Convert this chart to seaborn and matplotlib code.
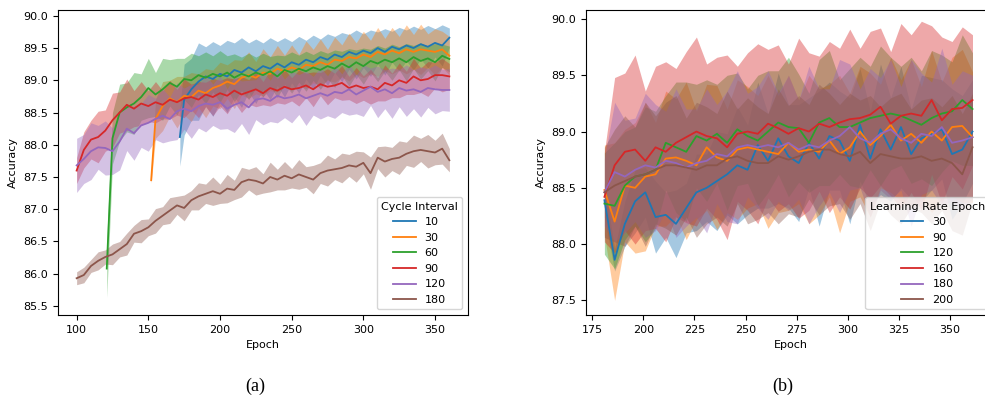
# plot.py
# Two panels of accuracy vs. epoch with shaded bands: (a) cycle interval, (b) learning rate epoch

import matplotlib
matplotlib.use('Agg')
import matplotlib.pyplot as plt
import pandas as pd
import seaborn as sns

# --- Data: panel (a), Cycle Interval ---

EPOCHS_A = list(range(100, 361, 5))
CYCLE_LABELS = ['10', '30', '60', '90', '120', '180']
CYCLE_START = [172, 152, 121, 100, 100, 100]

cycle_10 = [88.12, 88.70, 88.86, 88.98, 89.06, 89.02, 89.10, 89.06, 89.16, 89.12,
            89.20, 89.14, 89.22, 89.18, 89.26, 89.20, 89.28, 89.24, 89.32, 89.28,
            89.36, 89.32, 89.40, 89.36, 89.44, 89.40, 89.46, 89.42, 89.50, 89.44,
            89.52, 89.48, 89.54, 89.50, 89.56, 89.52, 89.58, 89.54, 89.66]
cycle_10_ci = [0.45, 0.55, 0.48, 0.60, 0.46, 0.58, 0.44, 0.56, 0.42, 0.54,
               0.38, 0.50, 0.36, 0.48, 0.34, 0.46, 0.32, 0.44, 0.30, 0.42,
               0.28, 0.40, 0.28, 0.38, 0.27, 0.38, 0.26, 0.36, 0.25, 0.36,
               0.24, 0.34, 0.24, 0.34, 0.23, 0.33, 0.22, 0.32, 0.15]

cycle_30 = [87.45, 88.40, 88.60, 88.72, 88.66, 88.76, 88.74, 88.84, 88.80, 88.88,
            88.92, 88.98, 88.94, 89.04, 89.08, 89.04, 89.12, 89.10, 89.18, 89.14,
            89.20, 89.16, 89.24, 89.22, 89.28, 89.24, 89.32, 89.30, 89.36, 89.34,
            89.40, 89.36, 89.44, 89.40, 89.46, 89.42, 89.48, 89.44, 89.48, 89.46,
            89.44, 89.48, 89.38]
cycle_30_ci = [0.05, 0.30, 0.38, 0.28, 0.40, 0.30, 0.38, 0.26, 0.38, 0.28,
               0.36, 0.26, 0.38, 0.27, 0.36, 0.25, 0.37, 0.26, 0.36, 0.25,
               0.35, 0.24, 0.37, 0.26, 0.36, 0.24, 0.35, 0.25, 0.37, 0.24,
               0.36, 0.26, 0.38, 0.25, 0.36, 0.26, 0.38, 0.27, 0.39, 0.26,
               0.36, 0.28, 0.30]

cycle_60 = [86.08, 88.10, 88.50, 88.58, 88.64, 88.74, 88.88, 88.78, 88.86, 88.96,
            88.90, 89.02, 89.00, 89.08, 89.04, 89.10, 89.06, 89.12, 89.04, 89.10,
            89.06, 89.12, 89.08, 89.14, 89.06, 89.16, 89.12, 89.18, 89.14, 89.20,
            89.16, 89.22, 89.18, 89.26, 89.20, 89.28, 89.22, 89.30, 89.26, 89.32,
            89.28, 89.34, 89.28, 89.36, 89.30, 89.34, 89.28, 89.38, 89.33]
cycle_60_ci = [0.45, 0.40, 0.44, 0.38, 0.48, 0.36, 0.46, 0.34, 0.48, 0.36,
               0.44, 0.32, 0.42, 0.30, 0.40, 0.28, 0.40, 0.26, 0.37, 0.26,
               0.36, 0.24, 0.34, 0.23, 0.33, 0.22, 0.32, 0.21, 0.31, 0.20,
               0.30, 0.20, 0.29, 0.19, 0.29, 0.19, 0.28, 0.18, 0.28, 0.18,
               0.28, 0.18, 0.29, 0.18, 0.28, 0.19, 0.29, 0.18, 0.20]

cycle_90 = [87.60, 87.92, 88.08, 88.12, 88.22, 88.38, 88.50, 88.62, 88.56, 88.64,
            88.60, 88.66, 88.62, 88.70, 88.66, 88.72, 88.74, 88.70, 88.78, 88.74,
            88.80, 88.76, 88.84, 88.78, 88.82, 88.86, 88.80, 88.88, 88.84, 88.90,
            88.86, 88.88, 88.92, 88.86, 88.94, 88.90, 88.92, 88.96, 88.88, 88.92,
            88.88, 88.90, 88.86, 88.96, 88.92, 89.00, 88.96, 89.06, 89.00, 89.02,
            89.08, 89.08, 89.06]
cycle_90_ci = [0.20, 0.28, 0.30, 0.40, 0.32, 0.42, 0.32, 0.40, 0.28, 0.34,
               0.24, 0.32, 0.22, 0.30, 0.20, 0.30, 0.20, 0.28, 0.19, 0.29,
               0.20, 0.28, 0.18, 0.28, 0.19, 0.27, 0.18, 0.28, 0.19, 0.27,
               0.18, 0.28, 0.19, 0.27, 0.18, 0.28, 0.19, 0.27, 0.18, 0.28,
               0.19, 0.27, 0.18, 0.28, 0.19, 0.27, 0.18, 0.28, 0.19, 0.27,
               0.20, 0.26, 0.20]

cycle_120 = [87.68, 87.78, 87.90, 87.96, 87.95, 87.90, 88.05, 88.25, 88.18, 88.30,
             88.34, 88.40, 88.45, 88.40, 88.52, 88.56, 88.52, 88.60, 88.64, 88.62,
             88.66, 88.56, 88.62, 88.66, 88.58, 88.70, 88.72, 88.68, 88.76, 88.72,
             88.74, 88.78, 88.72, 88.76, 88.80, 88.76, 88.82, 88.80, 88.86, 88.78,
             88.84, 88.90, 88.82, 88.86, 88.80, 88.88, 88.84, 88.86, 88.82, 88.88,
             88.86, 88.85, 88.85]
cycle_120_ci = [0.42, 0.38, 0.44, 0.34, 0.42, 0.36, 0.44, 0.34, 0.42, 0.34,
                0.44, 0.32, 0.42, 0.34, 0.44, 0.32, 0.42, 0.34, 0.44, 0.32,
                0.42, 0.31, 0.43, 0.33, 0.42, 0.31, 0.41, 0.32, 0.42, 0.30,
                0.40, 0.31, 0.42, 0.30, 0.40, 0.31, 0.41, 0.30, 0.40, 0.30,
                0.40, 0.29, 0.40, 0.30, 0.39, 0.29, 0.40, 0.30, 0.39, 0.30,
                0.38, 0.32, 0.33]

cycle_180 = [85.93, 85.98, 86.12, 86.20, 86.26, 86.30, 86.38, 86.46, 86.62, 86.66,
             86.72, 86.82, 86.90, 86.98, 87.06, 87.02, 87.14, 87.20, 87.24, 87.28,
             87.24, 87.32, 87.30, 87.42, 87.46, 87.44, 87.40, 87.50, 87.46, 87.52,
             87.48, 87.54, 87.50, 87.46, 87.56, 87.60, 87.62, 87.64, 87.68, 87.66,
             87.72, 87.56, 87.80, 87.74, 87.78, 87.80, 87.86, 87.90, 87.92, 87.90,
             87.88, 87.94, 87.76]
cycle_180_ci = [0.10, 0.12, 0.10, 0.14, 0.11, 0.16, 0.12, 0.17, 0.13, 0.18,
                0.13, 0.19, 0.14, 0.20, 0.14, 0.20, 0.15, 0.21, 0.15, 0.22,
                0.15, 0.22, 0.15, 0.23, 0.16, 0.22, 0.15, 0.23, 0.16, 0.22,
                0.15, 0.23, 0.16, 0.22, 0.16, 0.24, 0.16, 0.23, 0.17, 0.24,
                0.17, 0.25, 0.17, 0.24, 0.18, 0.26, 0.18, 0.25, 0.18, 0.26,
                0.19, 0.24, 0.18]

# --- Data: panel (b), Learning Rate Epoch ---

EPOCHS_B = list(range(181, 362, 5))
LR_LABELS = ['30', '90', '120', '160', '180', '200']

lr_30 = [88.39, 87.86, 88.18, 88.38, 88.46, 88.24, 88.26, 88.18, 88.32, 88.46,
         88.50, 88.56, 88.62, 88.70, 88.66, 88.88, 88.74, 88.94, 88.78, 88.72,
         88.90, 88.76, 88.96, 88.92, 88.74, 89.06, 88.76, 89.02, 88.84, 89.04,
         88.80, 88.94, 88.98, 89.02, 88.80, 88.84, 89.00]
lr_30_ci = [0.15, 0.10, 0.20, 0.28, 0.22, 0.32, 0.20, 0.30, 0.22, 0.34,
            0.30, 0.44, 0.36, 0.52, 0.40, 0.56, 0.42, 0.58, 0.46, 0.52,
            0.40, 0.60, 0.48, 0.44, 0.56, 0.50, 0.42, 0.58, 0.46, 0.54,
            0.40, 0.56, 0.50, 0.44, 0.58, 0.48, 0.46]

lr_90 = [88.48, 88.20, 88.52, 88.50, 88.60, 88.62, 88.76, 88.77, 88.74, 88.70,
         88.86, 88.77, 88.74, 88.84, 88.86, 88.84, 88.82, 88.80, 88.90, 88.82,
         88.84, 88.82, 88.92, 88.80, 88.86, 89.00, 88.88, 88.96, 89.06, 88.92,
         88.98, 88.90, 89.00, 88.92, 89.04, 89.05, 88.95]
lr_90_ci = [0.40, 0.70, 0.50, 0.58, 0.66, 0.46, 0.60, 0.52, 0.70, 0.48,
            0.56, 0.64, 0.46, 0.62, 0.54, 0.48, 0.68, 0.52, 0.60, 0.46,
            0.66, 0.56, 0.50, 0.70, 0.48, 0.58, 0.64, 0.46, 0.60, 0.54,
            0.66, 0.50, 0.72, 0.52, 0.62, 0.68, 0.58]

lr_120 = [88.36, 88.34, 88.52, 88.60, 88.62, 88.66, 88.90, 88.86, 88.82, 88.96,
          88.92, 88.98, 88.90, 89.02, 88.96, 88.92, 89.00, 89.08, 89.04, 89.03,
          88.90, 89.08, 89.12, 89.04, 89.04, 89.08, 89.12, 89.14, 89.16, 89.14,
          89.10, 89.06, 89.12, 89.16, 89.18, 89.28, 89.20]
lr_120_ci = [0.45, 0.56, 0.48, 0.44, 0.60, 0.52, 0.42, 0.58, 0.62, 0.46,
             0.54, 0.44, 0.60, 0.50, 0.42, 0.58, 0.54, 0.46, 0.62, 0.48,
             0.44, 0.56, 0.60, 0.42, 0.52, 0.58, 0.46, 0.62, 0.50, 0.44,
             0.56, 0.48, 0.60, 0.52, 0.44, 0.58, 0.50]

lr_160 = [88.42, 88.70, 88.82, 88.84, 88.74, 88.86, 88.82, 88.90, 88.95, 89.00,
          88.96, 88.94, 88.86, 88.98, 89.00, 88.98, 89.07, 89.03, 88.98, 89.03,
          89.00, 89.07, 89.04, 89.08, 89.11, 89.12, 89.15, 89.22, 89.07, 89.14,
          89.16, 89.14, 89.28, 89.10, 89.20, 89.21, 89.28]
lr_160_ci = [0.40, 0.78, 0.70, 0.84, 0.62, 0.72, 0.80, 0.66, 0.76, 0.84,
             0.64, 0.72, 0.82, 0.60, 0.70, 0.80, 0.66, 0.74, 0.62, 0.80,
             0.70, 0.60, 0.76, 0.66, 0.80, 0.62, 0.74, 0.70, 0.64, 0.82,
             0.70, 0.84, 0.66, 0.74, 0.60, 0.72, 0.58]

lr_180 = [88.46, 88.64, 88.60, 88.66, 88.70, 88.68, 88.74, 88.72, 88.68, 88.72,
          88.74, 88.80, 88.78, 88.86, 88.88, 88.86, 88.88, 88.86, 88.90, 88.84,
          88.88, 88.86, 88.92, 88.96, 89.04, 88.94, 88.90, 88.98, 89.02, 88.94,
          88.90, 88.98, 88.96, 89.04, 88.90, 88.92, 88.95]
lr_180_ci = [0.30, 0.62, 0.50, 0.46, 0.64, 0.56, 0.44, 0.66, 0.52, 0.48,
             0.64, 0.44, 0.58, 0.68, 0.46, 0.54, 0.66, 0.48, 0.60, 0.44,
             0.70, 0.52, 0.46, 0.68, 0.56, 0.44, 0.66, 0.50, 0.62, 0.46,
             0.74, 0.54, 0.48, 0.70, 0.52, 0.62, 0.55]

lr_200 = [88.46, 88.52, 88.56, 88.60, 88.62, 88.66, 88.70, 88.70, 88.68, 88.66,
          88.70, 88.70, 88.76, 88.78, 88.74, 88.72, 88.72, 88.78, 88.75, 88.78,
          88.82, 88.84, 88.84, 88.80, 88.78, 88.82, 88.72, 88.80, 88.78, 88.76,
          88.76, 88.78, 88.74, 88.76, 88.72, 88.62, 88.86]
lr_200_ci = [0.40, 0.50, 0.58, 0.44, 0.64, 0.48, 0.56, 0.62, 0.44, 0.60,
             0.52, 0.46, 0.60, 0.42, 0.56, 0.50, 0.44, 0.60, 0.48, 0.54,
             0.42, 0.58, 0.50, 0.44, 0.56, 0.46, 0.60, 0.42, 0.52, 0.58,
             0.44, 0.50, 0.56, 0.46, 0.60, 0.54, 0.48]

PALETTE = sns.color_palette('tab10', 6)

# --- Helper Functions ---

def build_frame(labels, epochs_list, means, halves, hue_name):
    """Long-format table with one row per (series, epoch)."""
    rows = []
    for label, ep, m, h in zip(labels, epochs_list, means, halves):
        for e, v, w in zip(ep, m, h, strict=True):
            rows.append({'Epoch': e, 'Accuracy': v, 'lo': v - w, 'hi': v + w, hue_name: label})
    return pd.DataFrame(rows)


def draw_panel(ax, df, labels, hue_name):
    """Shaded bands first (below), then the mean lines through seaborn."""
    for label, color in zip(labels, PALETTE):
        sub = df[df[hue_name] == label]
        ax.fill_between(sub['Epoch'], sub['lo'], sub['hi'], color=color,
                        alpha=0.4, linewidth=0, zorder=1)
    sns.lineplot(data=df, x='Epoch', y='Accuracy', hue=hue_name, hue_order=labels,
                 palette=PALETTE, errorbar=None, linewidth=1.3, ax=ax)
    sns.move_legend(ax, 'lower right', fontsize=8, title_fontsize=8, frameon=True)
    ax.set_xlabel('Epoch', fontsize=8)
    ax.set_ylabel('Accuracy', fontsize=8)
    ax.tick_params(labelsize=8)

# --- Main Execution Logic ---

def main():
    epochs_a = [[s] + [e for e in EPOCHS_A if e > s] for s in CYCLE_START]
    df_a = build_frame(CYCLE_LABELS, epochs_a,
                       [cycle_10, cycle_30, cycle_60, cycle_90, cycle_120, cycle_180],
                       [cycle_10_ci, cycle_30_ci, cycle_60_ci, cycle_90_ci, cycle_120_ci, cycle_180_ci],
                       'Cycle Interval')
    df_b = build_frame(LR_LABELS, [EPOCHS_B] * 6,
                       [lr_30, lr_90, lr_120, lr_160, lr_180, lr_200],
                       [lr_30_ci, lr_90_ci, lr_120_ci, lr_160_ci, lr_180_ci, lr_200_ci],
                       'Learning Rate Epoch')

    W, H = 985, 398
    fig = plt.figure(figsize=(W / 100, H / 100), dpi=100)
    ax_a = fig.add_axes([58 / W, 83 / H, 410 / W, 305 / H])
    ax_b = fig.add_axes([586 / W, 83 / H, 409 / W, 305 / H])

    draw_panel(ax_a, df_a, CYCLE_LABELS, 'Cycle Interval')
    ax_a.set_xlim(87, 373)
    ax_a.set_ylim(85.36, 90.09)
    ax_a.set_xticks([100, 150, 200, 250, 300, 350])
    ax_a.set_yticks([85.5, 86.0, 86.5, 87.0, 87.5, 88.0, 88.5, 89.0, 89.5, 90.0])

    draw_panel(ax_b, df_b, LR_LABELS, 'Learning Rate Epoch')
    ax_b.set_xlim(172, 372)
    ax_b.set_ylim(87.37, 90.08)
    ax_b.set_xticks([175, 200, 225, 250, 275, 300, 325, 350])
    ax_b.set_yticks([87.5, 88.0, 88.5, 89.0, 89.5, 90.0])

    for ax in (ax_a, ax_b):
        ax.yaxis.set_major_formatter(plt.FormatStrFormatter('%.1f'))

    fig.text(255 / W, 1 - 386 / H, '(a)', ha='center', va='center',
             family='Liberation Serif', fontsize=13)
    fig.text(783 / W, 1 - 386 / H, '(b)', ha='center', va='center',
             family='Liberation Serif', fontsize=13)

    fig.savefig('out.png', dpi=100)
    plt.close(fig)


if __name__ == '__main__':
    main()
